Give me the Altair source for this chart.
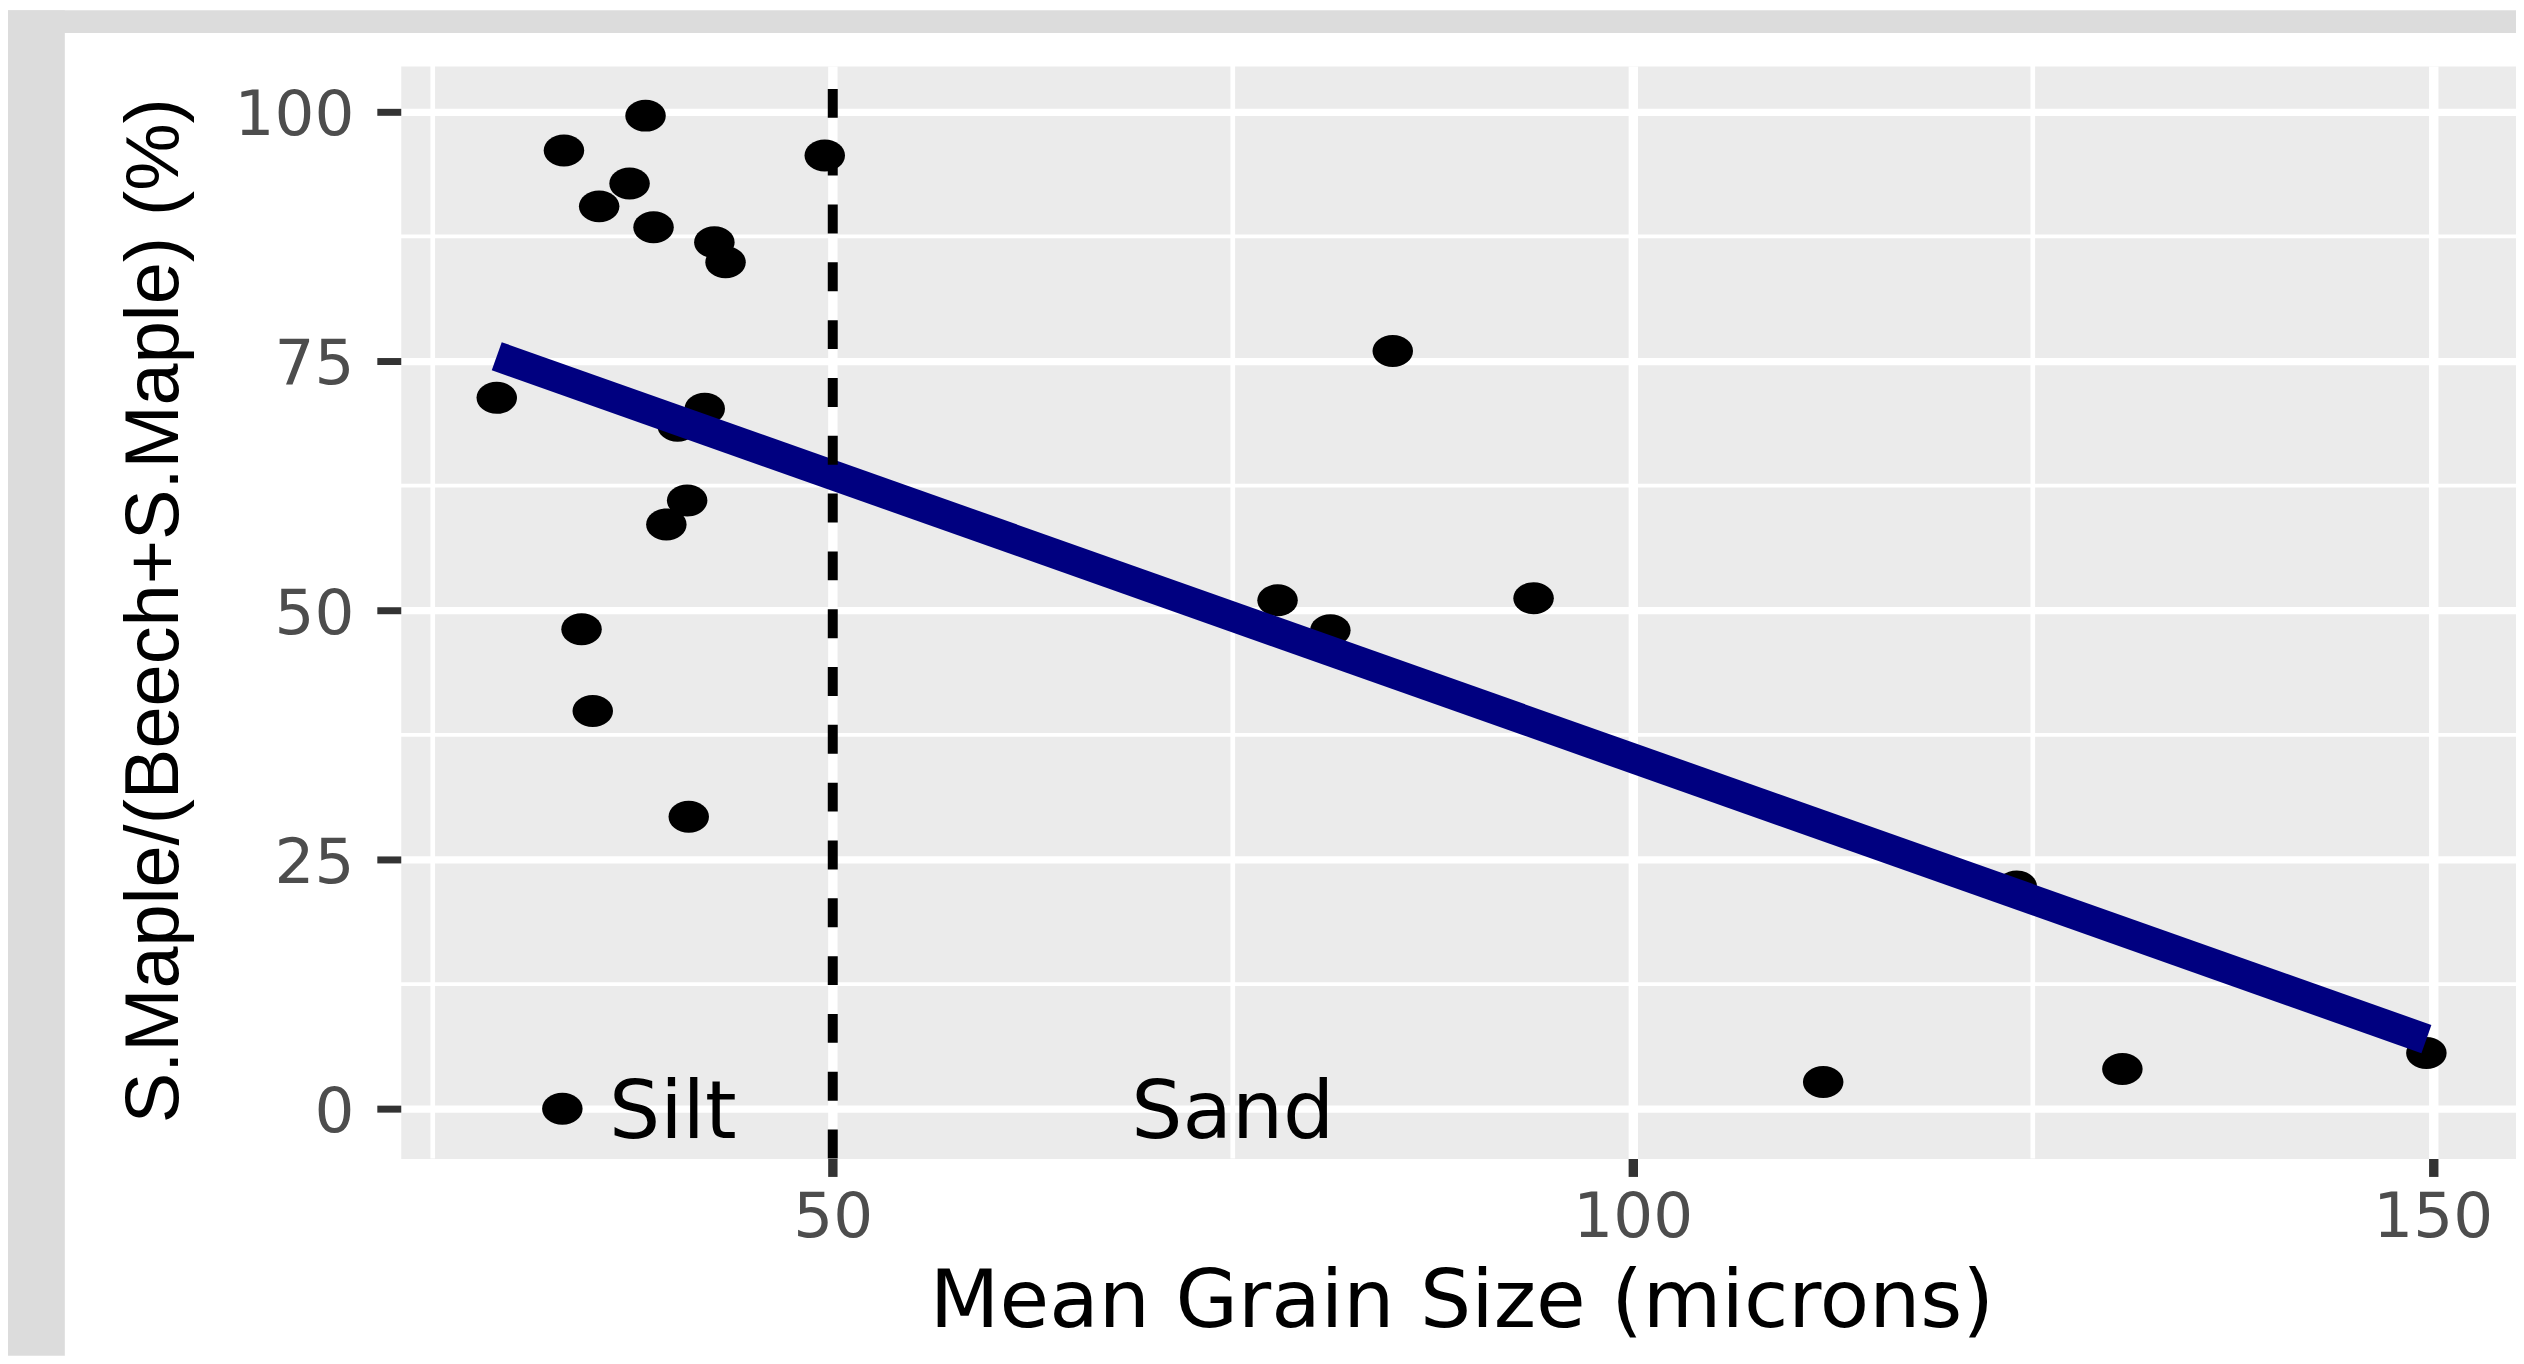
import altair as alt
import pandas as pd

# ---- data ----
grain_size = [38.3, 33.2, 49.5, 37.3, 35.4, 38.8, 42.6, 43.3, 29.0, 42.0, 40.3, 40.9, 39.6,
              34.3, 35.0, 41.0, 33.1, 85.0, 77.8, 81.1, 93.8, 111.9, 130.6, 149.6, 124.0]
maple_pct = [99.6, 96.1, 95.6, 92.8, 90.5, 88.4, 86.9, 84.9, 71.3, 70.2, 68.5, 61.0, 58.6,
             48.1, 39.9, 29.3, 0.0, 76.0, 51.0, 48.0, 51.2, 2.7, 4.0, 5.6, 22.3]

x_major = [50, 100, 150]
x_minor = [25, 75, 125]
y_major = [0, 25, 50, 75, 100]
y_minor = [12.5, 37.5, 62.5, 87.5]
boundary = [50]
region_labels = ["Silt", "Sand"]
region_x = [40, 75]
region_y = [0, 0]

x_domain = [23.0, 155.2]
y_domain = [-4.98, 104.58]

# ---- layout ----
W, H = 2122, 1096
PAD_L, PAD_T, PAD_B = 394, 56, 198
ELLIPSE = "M-1,0A1,0.79,0,1,1,1,0A1,0.79,0,1,1,-1,0Z"

df = pd.DataFrame({"grain": grain_size, "maple": maple_pct})
xs = alt.Scale(domain=x_domain, nice=False, zero=False)
ys = alt.Scale(domain=y_domain, nice=False, zero=False)

x_axis = alt.Axis(values=x_major, grid=True, gridColor="white", gridWidth=9.4, gridOpacity=1,
                  domain=False, ticks=True, tickColor="#333333", tickSize=18, tickWidth=9.4,
                  labelFont="DejaVu Sans", labelFontSize=63, labelColor="#4D4D4D",
                  labelPadding=10, labelFlush=False, labelOverlap=False,
                  title="Mean Grain Size (microns)", titleFont="DejaVu Sans", titleFontSize=81,
                  titleFontWeight="normal", titleColor="black", titleX=1064, titleY=169,
                  titleAlign="center", titleBaseline="alphabetic")
y_axis = alt.Axis(values=y_major, grid=True, gridColor="white", gridWidth=7.3, gridOpacity=1,
                  domain=False, ticks=True, tickColor="#333333", tickSize=24, tickWidth=7,
                  labelFont="DejaVu Sans", labelFontSize=63, labelColor="#4D4D4D",
                  labelPadding=23, labelOffset=4, labelFlush=False, labelOverlap=False,
                  title="S.Maple/(Beech+S.Maple) (%)", titleFont="Liberation Sans",
                  titleFontSize=76, titleFontWeight="normal", titleColor="black",
                  titleAngle=270, titleX=-224, titleY=546, titleAlign="center",
                  titleBaseline="alphabetic")

one = pd.DataFrame({"k": [0]})
left_strip = alt.Chart(one).mark_rect(color="#DCDCDC").encode(
    x=alt.value(-PAD_L), x2=alt.value(-337), y=alt.value(-PAD_T), y2=alt.value(H + PAD_B))
top_strip = alt.Chart(one).mark_rect(color="#DCDCDC").encode(
    x=alt.value(-PAD_L), x2=alt.value(W), y=alt.value(-PAD_T), y2=alt.value(-33))

vminor = alt.Chart(pd.DataFrame({"xm": x_minor})).mark_rule(color="white", strokeWidth=4.7).encode(
    x=alt.X("xm:Q", scale=xs, axis=x_axis))
hminor = alt.Chart(pd.DataFrame({"ym": y_minor})).mark_rule(color="white", strokeWidth=3.7).encode(
    y=alt.Y("ym:Q", scale=ys, axis=y_axis))

points = alt.Chart(df).mark_point(shape=ELLIPSE, filled=True, size=1650, color="black",
                                  opacity=1, strokeWidth=0).encode(
    x=alt.X("grain:Q", scale=xs, axis=x_axis),
    y=alt.Y("maple:Q", scale=ys, axis=y_axis))

fit = alt.Chart(df).transform_regression("grain", "maple").mark_line(
    color="#000080", strokeWidth=30, strokeCap="butt").encode(
    x=alt.X("grain:Q", scale=xs, axis=x_axis),
    y=alt.Y("maple:Q", scale=ys, axis=y_axis))

vline = alt.Chart(pd.DataFrame({"b": boundary})).mark_rule(
    color="black", strokeWidth=10, strokeDash=[29, 29]).encode(
    x=alt.X("b:Q", scale=xs, axis=x_axis),
    y=alt.Y(datum=y_domain[0], type="quantitative", scale=ys, axis=y_axis),
    y2=alt.Y2(datum=y_domain[1]))

text = alt.Chart(pd.DataFrame({"lx": region_x, "ly": region_y, "lab": region_labels})).mark_text(
    font="DejaVu Sans", fontSize=81, color="black", align="center", baseline="alphabetic",
    dy=29).encode(
    x=alt.X("lx:Q", scale=xs, axis=x_axis),
    y=alt.Y("ly:Q", scale=ys, axis=y_axis),
    text="lab:N")

chart = alt.layer(left_strip, top_strip, vminor, hminor, points, fit, vline, text).properties(
    width=W, height=H,
    autosize=alt.AutoSizeParams(type="none"),
    padding={"left": PAD_L, "top": PAD_T, "right": 0, "bottom": PAD_B},
).configure(background="white").configure_view(fill="#EBEBEB", stroke="transparent")

chart.save("out.html", embed_options={"renderer": "svg", "actions": False})
